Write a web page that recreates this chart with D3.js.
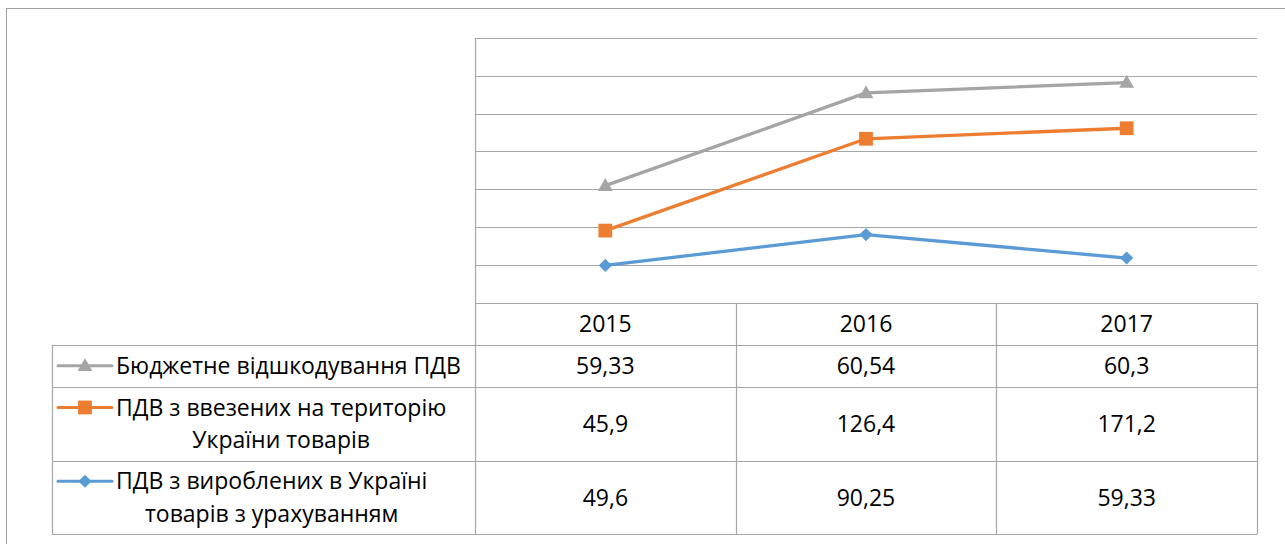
<!DOCTYPE html>
<html><head><meta charset="utf-8">
<script src="https://cdn.jsdelivr.net/npm/d3@7"></script>
<style>
html,body{margin:0;padding:0;background:#fff;}
svg{display:block;font-family:"Open Sans","Noto Sans",sans-serif;}
</style></head>
<body>
<svg id="chart" width="1285" height="544"></svg>
<script>
// ---- data ----
const years = ["2015", "2016", "2017"];
const seriesNames = [
  "ПДВ з вироблених в Україні товарів з урахуванням",
  "ПДВ з ввезених на територію України товарів",
  "Бюджетне відшкодування ПДВ"
];
const seriesLines = [
  ["ПДВ з вироблених в Україні", "товарів з урахуванням"],
  ["ПДВ з ввезених на територію", "України товарів"],
  ["Бюджетне відшкодування ПДВ"]
];
const producedVAT = [49.6, 90.25, 59.33];
const importedVAT = [45.9, 126.4, 171.2];
const refundVAT = [59.33, 60.54, 60.3];
const valueLabels = [
  ["49,6", "90,25", "59,33"],
  ["45,9", "126,4", "171,2"],
  ["59,33", "60,54", "60,3"]
];
const yTicks = [0, 50, 100, 150, 200, 250, 300, 350];
const colors = ["#5B9BD5", "#ED7D31", "#A5A5A5"];
const markers = ["diamond", "square", "triangle"];

// ---- layout ----
const svg = d3.select("#chart");
const plotL = 475, plotR = 1257, plotT = 37.7, plotB = 303;
const tableL = 52;
const rowEdges = [303, 344.7, 386.7, 460.7, 534.3];
const gridCol = "#a6a6a6";

// outer chart border (extends beyond picture)
svg.append("rect").attr("x", 6.5).attr("y", 8.5).attr("width", 1400).attr("height", 700)
  .attr("fill", "none").attr("stroke", "#a0a0a0").attr("stroke-width", 1);

const x = d3.scaleBand().domain(years).range([plotL, plotR]).padding(0);
const y = d3.scaleLinear().domain([0, 350]).range([plotB, plotT]);

// gridlines
svg.append("g").selectAll("line").data(yTicks).join("line")
  .attr("x1", plotL).attr("x2", plotR)
  .attr("y1", d => Math.round(y(d)) + 0.5).attr("y2", d => Math.round(y(d)) + 0.5)
  .attr("stroke", gridCol).attr("stroke-width", 1.2);

// vertical plot-left line
svg.append("line").attr("x1", plotL + 0.5).attr("x2", plotL + 0.5)
  .attr("y1", Math.round(plotT)).attr("y2", rowEdges[4])
  .attr("stroke", gridCol).attr("stroke-width", 1.2);

// ---- table ----
const tg = svg.append("g");
rowEdges.forEach((ry, i) => {
  tg.append("line").attr("x1", i === 0 ? plotL : tableL).attr("x2", plotR)
    .attr("y1", Math.round(ry) + 0.5).attr("y2", Math.round(ry) + 0.5)
    .attr("stroke", gridCol).attr("stroke-width", 1.2);
});
[tableL].forEach(vx => tg.append("line").attr("x1", vx + 0.5).attr("x2", vx + 0.5)
  .attr("y1", rowEdges[1]).attr("y2", rowEdges[4]).attr("stroke", gridCol).attr("stroke-width", 1.2));
years.forEach((yr, i) => {
  const vx = Math.round(x(yr) + x.bandwidth());
  tg.append("line").attr("x1", vx + 0.5).attr("x2", vx + 0.5)
    .attr("y1", rowEdges[0]).attr("y2", rowEdges[4]).attr("stroke", gridCol).attr("stroke-width", 1.2);
});

const fs = 23;
tg.selectAll("text.yr").data(years).join("text").attr("class", "yr")
  .attr("x", d => x(d) + x.bandwidth() / 2).attr("y", (rowEdges[0] + rowEdges[1]) / 2)
  .attr("dy", "0.35em").attr("text-anchor", "middle").attr("font-size", fs).attr("fill", "#000")
  .text(d => d);

const rowOrder = [2, 1, 0];
function markerPath(type) {
  if (type === "diamond") return d3.symbol(d3.symbolDiamond2, 110)();
  if (type === "square") return d3.symbol(d3.symbolSquare, 190)();
  return d3.symbol(d3.symbolTriangle, 95)();
}
rowOrder.forEach((si, r) => {
  const top = rowEdges[r + 1], bot = rowEdges[r + 2], mid = (top + bot) / 2;
  const lines = seriesLines[si];
  const lh = 32.5;
  const firstY = mid - (lines.length - 1) * lh / 2;
  const ky = firstY;
  tg.append("line").attr("x1", 58).attr("x2", 112).attr("y1", ky).attr("y2", ky)
    .attr("stroke", colors[si]).attr("stroke-width", 3).attr("stroke-linecap", "round");
  tg.append("path").attr("d", markerPath(markers[si]))
    .attr("transform", `translate(85,${ky + (markers[si] === "triangle" ? 1 : 0)})`)
    .attr("fill", colors[si]);
  const txts = lines.map((t, i) => tg.append("text").attr("font-size", fs).attr("fill", "#000")
    .attr("y", firstY + i * lh).attr("dy", "0.35em").text(t));
  const widths = txts.map(t => t.node().getComputedTextLength());
  const maxW = d3.max(widths);
  const bx = 116;
  txts.forEach((t, i) => t.attr("x", bx + (maxW - widths[i]) / 2));
  years.forEach((yr, j) => {
    tg.append("text").attr("x", x(yr) + x.bandwidth() / 2).attr("y", mid).attr("dy", "0.35em")
      .attr("text-anchor", "middle").attr("font-size", fs).attr("fill", "#000")
      .text(valueLabels[si][j]);
  });
});

// ---- stacked lines ----
const rows = years.map((yr, i) => ({year: yr, s0: producedVAT[i], s1: importedVAT[i], s2: refundVAT[i]}));
const stack = d3.stack().keys(["s0", "s1", "s2"]);
const stacked = stack(rows);
const line = d3.line().x(d => x(d.data.year) + x.bandwidth() / 2).y(d => y(d[1]));
stacked.forEach((s, si) => {
  svg.append("path").datum(s).attr("d", line).attr("fill", "none")
    .attr("stroke", colors[si]).attr("stroke-width", 3.3).attr("stroke-linejoin", "round").attr("stroke-linecap", "round");
});
stacked.forEach((s, si) => {
  svg.append("g").selectAll("path").data(s).join("path")
    .attr("d", markerPath(markers[si]))
    .attr("transform", d => `translate(${x(d.data.year) + x.bandwidth() / 2},${y(d[1]) + (markers[si] === "triangle" ? 1 : 0)})`)
    .attr("fill", colors[si]);
});
</script>
</body></html>
